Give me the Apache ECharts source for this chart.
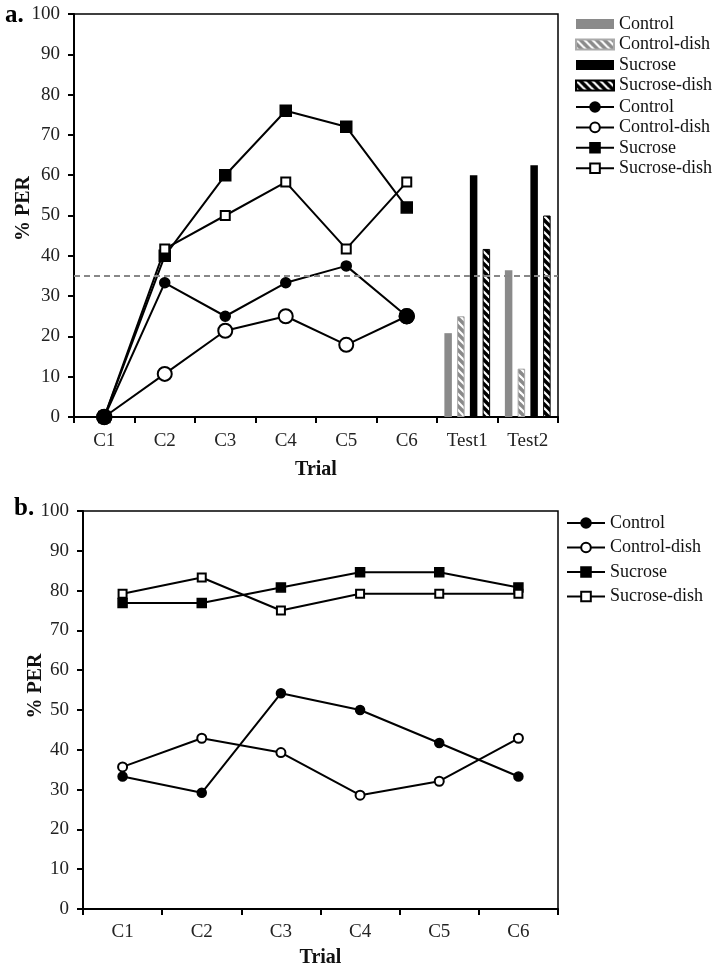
<!DOCTYPE html>
<html><head><meta charset="utf-8">
<script src="https://cdn.jsdelivr.net/npm/echarts@6/dist/echarts.min.js"></script>
<style>html,body{margin:0;padding:0;background:#fff}#c{width:724px;height:971px}</style>
</head><body><div id="c"></div>
<script>
// ---- data ----
const trialsA = ['C1', 'C2', 'C3', 'C4', 'C5', 'C6', 'Test1', 'Test2'];
const trialsB = ['C1', 'C2', 'C3', 'C4', 'C5', 'C6'];
const testCats = ['Test1', 'Test2'];
const groupNames = ['Control', 'Control-dish', 'Sucrose', 'Sucrose-dish'];

// panel a, lines (C1..C6)
const aControl = [0, 33.3, 25, 33.3, 37.5, 25];
const aControlDish = [0, 10.7, 21.4, 25, 17.9, 25];
const aSucrose = [0, 40, 60, 76, 72, 52];
const aSucroseDish = [0, 41.7, 50, 58.3, 41.7, 58.3];
// panel a, bars (Test1, Test2)
const barControl = [20.8, 36.4];
const barControlDish = [25, 12];
const barSucrose = [60, 62.5];
const barSucroseDish = [41.7, 50];
const threshold = 35;

// panel b, lines (C1..C6)
const bControl = [33.3, 29.2, 54.2, 50, 41.7, 33.3];
const bControlDish = [35.7, 42.9, 39.3, 28.6, 32.1, 42.9];
const bSucrose = [76.9, 76.9, 80.8, 84.6, 84.6, 80.8];
const bSucroseDish = [79.2, 83.3, 75, 79.2, 79.2, 79.2];

// ---- styling helpers ----
const FONT = 'Liberation Serif';
function stripes(bg, fg, size, lw) {
  const c = document.createElement('canvas');
  c.width = size; c.height = size;
  const g = c.getContext('2d');
  g.fillStyle = bg; g.fillRect(0, 0, size, size);
  g.strokeStyle = fg; g.lineWidth = lw;
  for (let k = -1; k <= 1; k++) {
    g.beginPath(); g.moveTo(k * size - 1, -1); g.lineTo(k * size + size + 1, size + 1); g.stroke();
  }
  return { image: c, repeat: 'repeat' };
}
const GRAY = '#8a8a8a';

function pairs(cats, vals) { return cats.map((c, i) => [c, vals[i]]); }

function lineSeries(name, data, symbol, size, idx, z) {
  return {
    type: 'line', name: name, data: data, xAxisIndex: idx, yAxisIndex: idx,
    symbol: symbol, symbolSize: size, z: z,
    lineStyle: { color: '#000', width: 2 },
    itemStyle: { color: '#000', borderColor: '#000', borderWidth: 1.5 },
    emphasis: { disabled: true }, animation: false
  };
}
function barSeries(name, cats, vals, color, border) {
  return {
    type: 'bar', name: name, data: pairs(cats, vals), xAxisIndex: 0, yAxisIndex: 0,
    barWidth: 7.5, barGap: '70%',
    itemStyle: { color: color, borderColor: border, borderWidth: border ? 1 : 0 },
    emphasis: { disabled: true }, animation: false
  };
}

const axisLbl = { fontFamily: FONT, fontSize: 19, color: '#222' };
const nameStyle = { fontFamily: FONT, fontSize: 20, fontWeight: 'bold', color: '#111' };
function xAx(idx, cats, labelMargin, nameGap) {
  return {
    gridIndex: idx, type: 'category', data: cats, boundaryGap: true,
    axisLine: { lineStyle: { color: '#000', width: 2 } },
    axisTick: { show: true, length: 6, lineStyle: { color: '#000', width: 2 } },
    axisLabel: Object.assign({ margin: labelMargin, interval: 0 }, axisLbl),
    name: 'Trial', nameLocation: 'middle', nameGap: nameGap, nameTextStyle: nameStyle,
    nameMoveOverlap: false
  };
}
function yAx(idx, nameGap, shift) {
  return {
    gridIndex: idx, type: 'value', min: 0, max: 100, interval: 10,
    axisLine: { show: true, lineStyle: { color: '#000', width: 2 } },
    axisTick: { show: true, length: 6, lineStyle: { color: '#000', width: 2 } },
    axisLabel: Object.assign({ margin: 14 }, axisLbl),
    splitLine: { show: false },
    name: '% PER', nameLocation: 'middle', nameGap: nameGap,
    nameTextStyle: Object.assign({ padding: [0, 0, 0, shift] }, nameStyle),
    nameMoveOverlap: false
  };
}
const legendText = { fontFamily: FONT, fontSize: 18, color: '#111', lineHeight: 18 };
const fmt = n => n.split(':')[1];

const series = [
  barSeries('bar:Control', testCats, barControl, GRAY, null),
  barSeries('bar:Control-dish', testCats, barControlDish, stripes(GRAY, '#fff', 8, 2.2), '#aaa'),
  barSeries('bar:Sucrose', testCats, barSucrose, '#000', null),
  barSeries('bar:Sucrose-dish', testCats, barSucroseDish, stripes('#000', '#fff', 8, 2.2), '#000'),
  lineSeries('a:Control-dish', aControlDish, 'emptyCircle', 14, 0, 3),
  lineSeries('a:Control', aControl, 'circle', 10, 0, 4),
  lineSeries('a:Sucrose', aSucrose, 'rect', 11, 0, 3),
  lineSeries('a:Sucrose-dish', aSucroseDish, 'emptyRect', 9, 0, 3),
  lineSeries('b:Control', bControl, 'circle', 9, 1, 3),
  lineSeries('b:Control-dish', bControlDish, 'emptyCircle', 9, 1, 3),
  lineSeries('b:Sucrose', bSucrose, 'rect', 9, 1, 3),
  lineSeries('b:Sucrose-dish', bSucroseDish, 'emptyRect', 8, 1, 3)
];
// filled control marker drawn large where it sits on top of the open marker
series[5].symbolSize = (v, p) => (aControl[p.dataIndex] === aControlDish[p.dataIndex] ? 15 : 10);
// threshold dashed line in panel a
series[5].markLine = {
  silent: true, symbol: 'none', label: { show: false },
  lineStyle: { color: '#888', type: [6, 4], width: 1.8 },
  data: [{ yAxis: threshold }], animation: false
};

const option = {
  backgroundColor: '#fff',
  animation: false,
  title: [
    { text: 'a.', left: 0, top: -2, textStyle: { fontFamily: FONT, fontSize: 25, fontWeight: 'bold', color: '#000' } },
    { text: 'b.', left: 9, top: 491, textStyle: { fontFamily: FONT, fontSize: 25, fontWeight: 'bold', color: '#000' } }
  ],
  grid: [
    { left: 74, top: 14, right: 166, bottom: 554, show: true, borderColor: '#000', borderWidth: 1.5,
      containLabel: false, outerBoundsMode: 'none' },
    { left: 83, top: 511, right: 166, bottom: 62, show: true, borderColor: '#000', borderWidth: 1.5,
      containLabel: false, outerBoundsMode: 'none' }
  ],
  xAxis: [xAx(0, trialsA, 15, 43), xAx(1, trialsB, 14, 39)],
  yAxis: [yAx(0, 40, 14), yAx(1, 37.5, 48)],
  legend: [
    { orient: 'vertical', left: 570, top: 10, itemWidth: 38, itemHeight: 10, itemGap: 2.5,
      icon: 'rect', selectedMode: false, formatter: fmt, textStyle: legendText,
      data: groupNames.map(n => 'bar:' + n) },
    { orient: 'vertical', left: 570, top: 93, itemWidth: 38, itemHeight: 12, itemGap: 2.4,
      selectedMode: false, formatter: fmt, textStyle: legendText,
      data: groupNames.map(n => 'a:' + n) },
    { orient: 'vertical', left: 561, top: 509, itemWidth: 38, itemHeight: 12, itemGap: 6.5,
      selectedMode: false, formatter: fmt, textStyle: legendText,
      data: groupNames.map(n => 'b:' + n) }
  ],
  series: series
};
const chart = echarts.init(document.getElementById('c'), null, { renderer: 'canvas' });
chart.setOption(option);
</script>
</body></html>
